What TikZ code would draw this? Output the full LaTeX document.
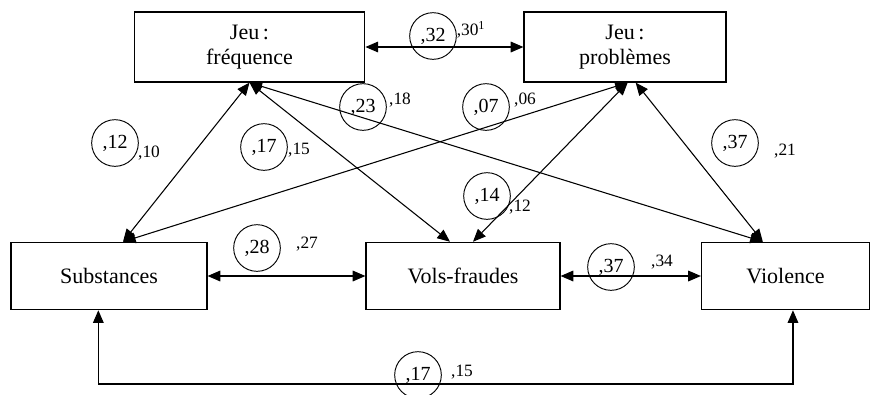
\documentclass[tikz,border=0pt]{standalone}
\usepackage{fontspec}
\setmainfont{Liberation Serif}
\usetikzlibrary{arrows.meta}
\usetikzlibrary{positioning}

\begin{document}
\begin{tikzpicture}[
      x=0.75pt, y=-0.75pt,
      var/.style={rectangle, draw, line width=0.9pt, align=center,
                  font=\fontsize{16.5}{19}\selectfont, inner sep=0pt},
      coef/.style={circle, draw, line width=0.7pt, minimum size=35pt,
                   inner sep=0pt, font=\fontsize{15}{15}\selectfont},
      est/.style={inner sep=0pt, font=\fontsize{13}{13}\selectfont},
      <->, >={Triangle[length=9.5pt, width=8pt]}, line width=0.8pt
    ]
      \useasboundingbox (0,0) rectangle (871,394);

      \node [var, minimum width=173pt, minimum height=52.5pt] (frequence)
            at (249.5,47) {Jeu\,:\\fréquence};
      \node [var, minimum width=151.5pt, minimum height=52.5pt] (problemes)
            at (625,47) {Jeu\,:\\problèmes};
      \node [var, minimum width=147pt, minimum height=50.5pt] (substances)
            at (109,276) {Substances};
      \node [var, minimum width=145.5pt, minimum height=50.5pt] (vols)
            at (463,276) {Vols-fraudes};
      \node [var, minimum width=126pt, minimum height=50.5pt] (violence)
            at (785.5,276) {Violence};

      \coordinate (substop) at ([xshift=10.5pt]substances.north);
      \coordinate (volsleft) at ([xshift=-9.75pt]vols.north);
      \coordinate (volsright) at ([xshift=7.5pt]vols.north);
      \coordinate (violtop) at ([xshift=-17pt]violence.north);
      \coordinate (probleft) at ([xshift=2pt]problemes.south);
      \coordinate (probright) at ([xshift=8pt]problemes.south);
      \coordinate (subsfoot) at ([xshift=-8pt]substances.south);
      \coordinate (violfoot) at ([xshift=5.6pt]violence.south);
      \coordinate (floor) at (0,384);

      \path (frequence.east) edge (problemes.west)
            (frequence.south) edge (substop)
            (frequence.south) edge (volsleft)
            (frequence.south) edge (violtop)
            (probleft) edge (substop)
            (probleft) edge (volsright)
            (probright) edge (violtop)
            (substances.east) edge (vols.west)
            (vols.east) edge (violence.west);
      \draw (subsfoot) -- (subsfoot |- floor) -| (violfoot);

      % coefficients
      \node [coef] (c-fp) at (433,36) {,32};
      \node [est] (e-fp) at (471,30) {,30\textsuperscript{1}};
      \node [coef] (c-fv) at (363,107) {,23};
      \node [est] (e-fv) at (400,100) {,18};
      \node [coef] (c-ps) at (486,107) {,07};
      \node [est] (e-ps) at (525,100) {,06};
      \node [coef] (c-fs) at (115,143) {,12};
      \node [est] (e-fs) at (149,153) {,10};
      \node [coef] (c-fo) at (264,147) {,17};
      \node [est] (e-fo) at (299,150) {,15};
      \node [coef] (c-so) at (257,248) {,28};
      \node [est] (e-so) at (307,244) {,27};
      \node [coef] (c-ov) at (611,267) {,37};
      \node [est] (e-ov) at (662,262) {,34};
      \node [coef] (c-po) at (487,196) {,14};
      \node [est] (e-po) at (520,207) {,12};
      \node [coef] (c-pv) at (735,143) {,37};
      \node [est] (e-pv) at (785,151) {,21};
      \node [coef] (c-sv) at (418,375) {,17};
      \node [est] (e-sv) at (462,372) {,15};
    \end{tikzpicture}
\end{document}
